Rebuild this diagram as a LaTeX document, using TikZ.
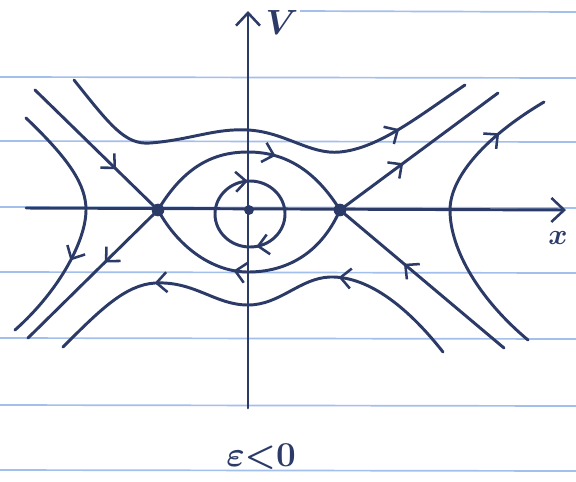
\documentclass[tikz,border=0pt]{standalone}
\usepackage{bm}
\usepackage{tikz}
\usetikzlibrary{arrows.meta,decorations.markings}
\definecolor{ink}{HTML}{2B3A67}
\definecolor{ruling}{HTML}{A3BFEC}

\begin{document}
\begin{tikzpicture}[
  x=0.025cm,y=-0.025cm,
  every node/.style={text=ink,inner sep=0pt},
  rule/.style={draw=ruling,line width=1.2pt},
  orbit/.style={draw=ink,line width=2.1pt,line cap=round},
  barb/.tip={Straight Barb[length=2.6mm,width=5mm,line width=1.8pt]},
  flow/.style={orbit,postaction={decorate,decoration={markings,
      mark=at position #1 with {\arrow{barb}}}}},
  flowtwo/.style 2 args={orbit,postaction={decorate,decoration={markings,
      mark=at position #1 with {\arrow{barb}},
      mark=at position #2 with {\arrow{barb}}}}},
  axis/.style={orbit,-{Straight Barb[length=3.2mm,width=6mm,line width=1.8pt]}},
  fixpt/.style={circle,fill=ink,minimum size=9pt}
]
\useasboundingbox (0,0) rectangle (576,481);
% notebook ruling
\draw[rule] (300,11) -- (576,12);
\foreach \yy in {77,141,207,272,338,405,470}
  \draw[rule] (0,\yy) -- (576,\yy+1);

% axes
\coordinate (xl) at (26,208);
\coordinate (xr) at (566,210);
\coordinate (vb) at (248,408);
\coordinate (vt) at (248,11);
\draw[axis] (xl) -- (xr);
\draw[axis] (vb) -- (vt);
\node (vlab) at (282,22) {\fontsize{26}{28}\selectfont $\bm{V}$};
\node (xlab) at (558,238) {\fontsize{20}{22}\selectfont $\bm{x}$};

% fixed points
\node[fixpt] (sl) at (158,210) {};
\node[fixpt] (sr) at (340,210) {};
\node[fixpt,minimum size=7pt] (ctr) at (249,210) {};

% separatrices through the saddles
\draw[flow=0.66] (35,90) -- (sl.center);
\draw[flow=0.41] (sl.center) -- (28,338);
\draw[flow=0.40] (sr.center) -- (498,93);
\draw[flow=0.61] (504,348) -- (sr.center);
\draw[flow=0.62] (sl.center) .. controls (185,165) and (215,152) .. (248,152)
  .. controls (285,152) and (315,170) .. (sr.center);
\draw[flow=0.57] (sr.center) .. controls (320,255) and (285,272) .. (248,272)
  .. controls (215,272) and (180,250) .. (sl.center);

% orbit round the centre
\draw[flowtwo={0.22}{0.74}] (285,214) arc[start angle=0,end angle=360,
  x radius=35,y radius=33];

% open orbits above and below
\draw[flow=0.82] (74,80) .. controls (110,125) and (125,145) .. (150,143)
  .. controls (190,140) and (215,128) .. (248,130)
  .. controls (285,132) and (310,155) .. (340,152)
  .. controls (380,148) and (420,115) .. (465,85);
\draw[flowtwo={0.30}{0.74}] (443,352) .. controls (410,310) and (370,276) .. (330,277)
  .. controls (300,278) and (280,305) .. (248,305)
  .. controls (215,305) and (195,281) .. (155,283)
  .. controls (125,285) and (100,310) .. (63,347);

% outer branches
\draw[flow=0.65] (26,118) .. controls (70,160) and (86,185) .. (86,210)
  .. controls (86,240) and (60,290) .. (15,330);
\draw[flow=0.82] (528,340) .. controls (480,300) and (450,250) .. (450,210)
  .. controls (450,180) and (480,140) .. (544,102);

\node (eps) at (261,457) {\fontsize{28}{30}\selectfont $\bm{\varepsilon{<}0}$};
\end{tikzpicture}
\end{document}
